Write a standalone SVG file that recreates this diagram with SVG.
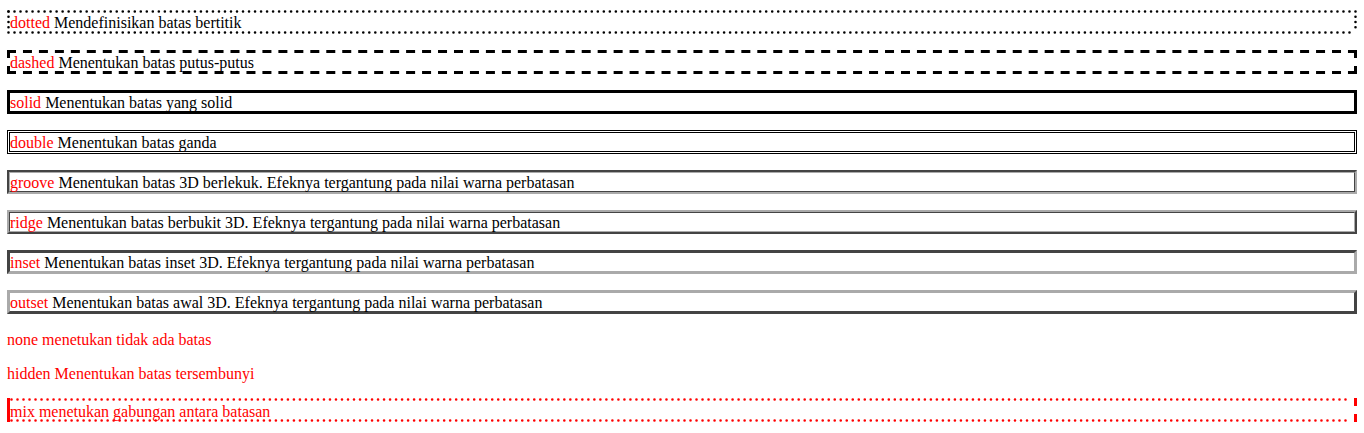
<svg xmlns="http://www.w3.org/2000/svg" width="1364" height="433" viewBox="0 0 1364 433">
<style>
text{font-family:"Liberation Serif","Times New Roman",serif;font-size:16px;fill:#000}
.r{fill:#ff0000}
.dot{stroke:#000;stroke-width:2.6;stroke-linecap:round;fill:none}
.dash{stroke:#000;stroke-width:3;fill:none}
.dk{fill:#444444}
.lt{fill:#aaaaaa}
.wh{fill:#ffffff}
</style>
<rect width="1364" height="433" fill="#ffffff"/>
<g id="row-dotted">
<line class="dot" x1="8.5" y1="11.5" x2="1355.5" y2="11.5" stroke-dasharray="0 6.0134"/>
<line class="dot" x1="8.5" y1="32.5" x2="1355.5" y2="32.5" stroke-dasharray="0 6.0134"/>
<line class="dot" x1="8.5" y1="11.5" x2="8.5" y2="32.5" stroke-dasharray="0 5.25"/>
<line class="dot" x1="1355.5" y1="11.5" x2="1355.5" y2="32.5" stroke-dasharray="0 5.25"/>
<text x="10" y="28"><tspan class="r">dotted</tspan> Mendefinisikan batas bertitik</text>
</g>
<g id="row-dashed">
<line class="dash" x1="7" y1="51.5" x2="1357" y2="51.5" stroke-dasharray="9 6.964"/>
<line class="dash" x1="7" y1="72.5" x2="1357" y2="72.5" stroke-dasharray="9 6.964"/>
<line class="dash" x1="8.5" y1="50" x2="8.5" y2="74" stroke-dasharray="8 8"/>
<line class="dash" x1="1355.5" y1="50" x2="1355.5" y2="74" stroke-dasharray="8 8"/>
<text x="10" y="68"><tspan class="r">dashed</tspan> Menentukan batas putus-putus</text>
</g>
<g id="row-solid">
<rect x="8.5" y="91.5" width="1347" height="21" fill="none" stroke="#000" stroke-width="3"/>
<text x="10" y="108"><tspan class="r">solid</tspan> Menentukan batas yang solid</text>
</g>
<g id="row-double">
<rect x="7.5" y="130.5" width="1349" height="23" fill="none" stroke="#000" stroke-width="1"/>
<rect x="9.5" y="132.5" width="1345" height="19" fill="none" stroke="#000" stroke-width="1"/>
<text x="10" y="148"><tspan class="r">double</tspan> Menentukan batas ganda</text>
</g>
<g id="row-groove">
<rect class="lt" x="7" y="170" width="1350" height="24"/>
<path class="dk" d="M7,170 H1357 L1355,172 H9 V192 L7,194 Z"/>
<rect class="dk" x="9" y="172" width="1346" height="20"/>
<path class="lt" d="M9,172 H1355 L1354,173 H10 V191 L9,192 Z"/>
<rect class="wh" x="10" y="173" width="1344" height="18"/>
<text x="10" y="188"><tspan class="r">groove</tspan> Menentukan batas 3D berlekuk. Efeknya tergantung pada nilai warna perbatasan</text>
</g>
<g id="row-ridge">
<rect class="dk" x="7" y="210" width="1350" height="24"/>
<path class="lt" d="M7,210 H1357 L1355,212 H9 V232 L7,234 Z"/>
<rect class="lt" x="9" y="212" width="1346" height="20"/>
<path class="dk" d="M9,212 H1355 L1354,213 H10 V231 L9,232 Z"/>
<rect class="wh" x="10" y="213" width="1344" height="18"/>
<text x="10" y="228"><tspan class="r">ridge</tspan> Menentukan batas berbukit 3D. Efeknya tergantung pada nilai warna perbatasan</text>
</g>
<g id="row-inset">
<rect class="lt" x="7" y="250" width="1350" height="24"/>
<path class="dk" d="M7,250 H1357 L1354,253 H10 V271 L7,274 Z"/>
<rect class="wh" x="10" y="253" width="1344" height="18"/>
<text x="10" y="268"><tspan class="r">inset</tspan> Menentukan batas inset 3D. Efeknya tergantung pada nilai warna perbatasan</text>
</g>
<g id="row-outset">
<rect class="dk" x="7" y="290" width="1350" height="24"/>
<path class="lt" d="M7,290 H1357 L1354,293 H10 V311 L7,314 Z"/>
<rect class="wh" x="10" y="293" width="1344" height="18"/>
<text x="10" y="308"><tspan class="r">outset</tspan> Menentukan batas awal 3D. Efeknya tergantung pada nilai warna perbatasan</text>
</g>
<g id="row-none">
<text class="r" x="7" y="345">none menetukan tidak ada batas</text>
</g>
<g id="row-hidden">
<text class="r" x="7" y="379">hidden Menentukan batas tersembunyi</text>
</g>
<g id="row-mix">
<rect x="7" y="398" width="3" height="24" fill="#ff0000"/>
<line x1="11.5" y1="399.5" x2="1351.5" y2="399.5" stroke="#ff0000" stroke-width="2.6" stroke-linecap="round" stroke-dasharray="0 6.009"/>
<line x1="11.5" y1="420.5" x2="1351.5" y2="420.5" stroke="#ff0000" stroke-width="2.6" stroke-linecap="round" stroke-dasharray="0 6.009"/>
<line x1="1355.5" y1="398" x2="1355.5" y2="422" stroke="#ff0000" stroke-width="3" stroke-dasharray="8 8"/>
<text class="r" x="10" y="417">mix menetukan gabungan antara batasan</text>
</g>
</svg>
